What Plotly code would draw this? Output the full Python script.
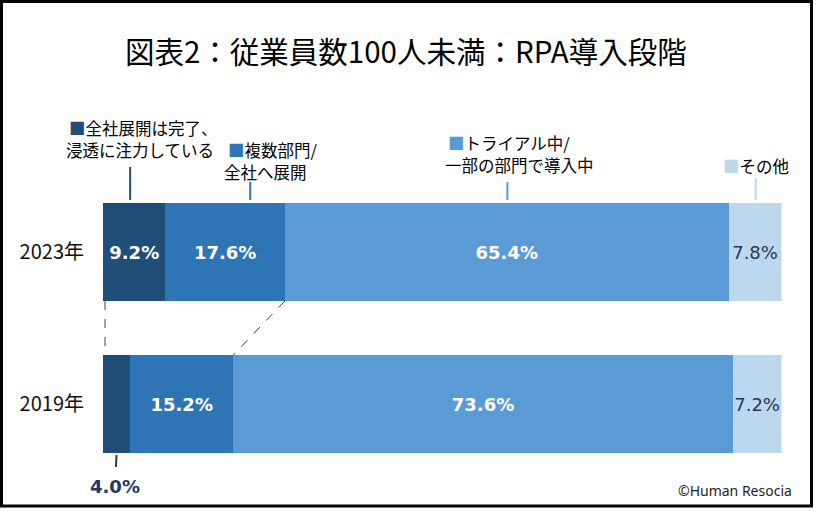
import plotly.graph_objects as go

# ---- data ----
years = ["2023年", "2019年"]
categories = ["全社展開は完了、<br>浸透に注力している", "複数部門/<br>全社へ展開",
              "トライアル中/<br>一部の部門で導入中", "その他"]
v_2023 = [9.2, 17.6, 65.4, 7.8]
v_2019 = [4.0, 15.2, 73.6, 7.2]
colors = ["#1F4E79", "#2E75B6", "#5B9BD5", "#BDD7EE"]
title_text = "図表2：従業員数100人未満：RPA導入段階"
credit = "©Human Resocia"

W, H = 829, 527
def X(px): return px / W
def Y(py): return 1 - py / H

ypos = {"2023年": 1, "2019年": 0}
BAR_W = 0.645
CJK = "Noto Sans CJK JP"
NUM = "DejaVu Sans"
NAVY = "#1F3864"

fig = go.Figure()
for i, cat in enumerate(categories):
    vals = [v_2023[i], v_2019[i]]
    texts = []
    for yr, v in zip(years, vals):
        # the narrow 2019 segment gets its label outside (below the bar)
        texts.append("" if (yr == "2019年" and i == 0) else f"{v:.1f}%")
    last = (i == len(categories) - 1)
    fig.add_trace(go.Bar(
        y=[ypos[y] for y in years], x=vals, orientation="h", width=BAR_W,
        name=cat, marker=dict(color=colors[i], line=dict(width=0)),
        text=texts, textposition="inside", insidetextanchor="middle",
        textangle=0, constraintext="none",
        textfont=dict(family=NUM, size=18,
                      color="#253858" if last else "white",
                      weight="normal" if last else "bold"),
        hoverinfo="skip",
    ))

fig.update_layout(
    width=W, height=H, barmode="stack", showlegend=False,
    margin=dict(l=0, r=0, t=0, b=0),
    paper_bgcolor="white", plot_bgcolor="white",
    xaxis=dict(domain=[X(103), X(781.5)], range=[0, 100], visible=False),
    yaxis=dict(domain=[0, 1], range=[-0.809, 2.658],
               tickvals=[ypos[y] for y in years], ticktext=years,
               showgrid=False, zeroline=False, showline=False,
               ticks="outside", ticklen=14, tickcolor="rgba(0,0,0,0)",
               tickfont=dict(family=CJK, size=20, color="#111111")),
)

top_edge = BAR_W / 2
# frame
fig.add_shape(type="rect", xref="paper", yref="paper",
              x0=X(1.5), x1=X(811.5), y0=Y(506), y1=Y(1.5),
              line=dict(color="black", width=3), fillcolor="rgba(0,0,0,0)")

# title
fig.add_annotation(text=title_text, xref="paper", yref="paper",
                   x=X(406), y=Y(50), xanchor="center", yanchor="middle",
                   showarrow=False,
                   font=dict(family=CJK, size=29.5, color="black"))

# category labels with leader lines
label_specs = [  # (line1 left px, line1 center py, line2 left px, leader x data, leader top py)
    (67, 128, 64, 4.0, 167),
    (226, 150, 222, 21.7, 182),
    (446, 143, 443, 59.6, 182),
    (721, 166, None, 96.2, 178),
]
for i, cat in enumerate(categories):
    l1x, l1y, l2x, lx, ltop = label_specs[i]
    parts = cat.split("<br>")
    fig.add_annotation(text=f"<span style='color:{colors[i]}'>■</span>{parts[0]}",
                       xref="paper", yref="paper", x=X(l1x), y=Y(l1y),
                       xanchor="left", yanchor="middle", showarrow=False,
                       font=dict(family=CJK, size=16.5, color="black"))
    if len(parts) > 1:
        fig.add_annotation(text=parts[1], xref="paper", yref="paper",
                           x=X(l2x), y=Y(l1y + 22), xanchor="left", yanchor="middle",
                           showarrow=False, font=dict(family=CJK, size=16.5, color="black"))
    fig.add_shape(type="line", xref="x", yref="paper", x0=lx, x1=lx,
                  y0=Y(200), y1=Y(ltop), line=dict(color=colors[i], width=2))

# dashed connectors between bars
c23 = [0, v_2023[0] + v_2023[1]]
c19 = [0, v_2019[0] + v_2019[1]]
for a, b in zip(c23, c19):
    fig.add_shape(type="line", xref="x", yref="y",
                  x0=a + (0.3 if a == 0 else 0), y0=1 - top_edge,
                  x1=b + (0.3 if b == 0 else 0), y1=top_edge,
                  line=dict(color="#404040", width=1, dash="dash"))

# outside label for small 2019 segment
fig.add_shape(type="line", xref="x", yref="paper",
              x0=v_2019[0] / 2, x1=v_2019[0] / 2 - 0.1, y0=Y(455), y1=Y(467),
              line=dict(color=NAVY, width=2))
fig.add_annotation(text=f"<b>{v_2019[0]:.1f}%</b>", xref="x", yref="paper",
                   x=v_2019[0] / 2 - 0.2, y=Y(486), xanchor="center", yanchor="middle",
                   showarrow=False,
                   font=dict(family=NUM, size=18, color=NAVY))

# credit
fig.add_annotation(text=credit, xref="paper", yref="paper",
                   x=X(794), y=Y(490), xanchor="right", yanchor="middle", showarrow=False,
                   font=dict(family="Noto Sans", size=14, color="#222222"))

fig.write_html("out.html", config={"displayModeBar": False},
               post_script="document.body.style.margin='0';document.body.style.padding='0';")
